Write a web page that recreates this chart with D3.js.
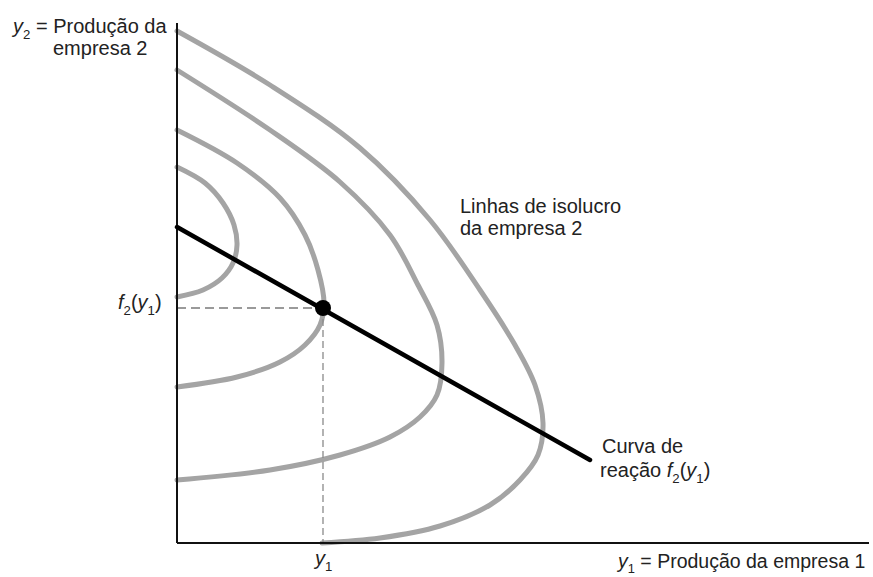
<!DOCTYPE html>
<html>
<head>
<meta charset="utf-8">
<script src="https://cdn.jsdelivr.net/npm/d3@7"></script>
<style>
  html, body { margin: 0; padding: 0; background: #fff; }
  svg { display: block; }
  text { font-family: "Liberation Sans", Arial, Helvetica, sans-serif; fill: #222; }
</style>
</head>
<body>
<svg id="chart" width="873" height="577"></svg>
<script>
// ---- Data (y1 = produção da empresa 1, y2 = produção da empresa 2; arbitrary units) ----
const isoprofit1 = [[0,376],[28,360],[46,340],[57,318],[60,298],[56,280],[45,265],[26,253],[0,246]];
const isoprofit2 = [[0,413],[60,380],[103,345],[128,308],[141,273],[147,240],[143,218],[128,198],[103,181],[60,166],[0,156]];
const isoprofit3 = [[0,473],[93,413],[163,361],[213,308],[241,258],[260,218],[265,180],[260,148],[243,126],[213,106],[163,88],[93,73],[0,63]];
const isoprofit4 = [[0,512],[93,458],[183,395],[253,323],[303,253],[338,198],[358,158],[366,120],[361,88],[343,63],[313,38],[263,17],[203,5],[145,0]];
const isoprofitCurves = [isoprofit1, isoprofit2, isoprofit3, isoprofit4];
const reactionCurve = [[0,316],[413,83]];
const equilibrium = { y1: 146, f2: 235 };
const xDomain = [0, 700];
const yDomain = [0, 520];

// ---- Layout ----
const svg = d3.select("#chart");
const x = d3.scaleLinear().domain(xDomain).range([177, 877]);
const y = d3.scaleLinear().domain(yDomain).range([543, 23]);

const line = d3.line().x(d => x(d[0])).y(d => y(d[1])).curve(d3.curveCatmullRom.alpha(0.5));

// Isoprofit curves
svg.append("g").selectAll("path").data(isoprofitCurves).join("path")
  .attr("d", line)
  .attr("fill", "none")
  .attr("stroke", "#a4a4a4")
  .attr("stroke-width", 5)
  .attr("stroke-linecap", "round");

// Dashed guide lines
svg.append("line")
  .attr("x1", x(0)).attr("x2", x(equilibrium.y1))
  .attr("y1", y(equilibrium.f2)).attr("y2", y(equilibrium.f2))
  .attr("stroke", "#9a9a9a").attr("stroke-width", 2).attr("stroke-dasharray", "9,5");
svg.append("line")
  .attr("x1", x(equilibrium.y1)).attr("x2", x(equilibrium.y1))
  .attr("y1", y(equilibrium.f2)).attr("y2", y(0))
  .attr("stroke", "#8a8a8a").attr("stroke-width", 1.3).attr("stroke-dasharray", "7,4");

// Axes
svg.append("line").attr("x1", x(0)).attr("x2", x(0)).attr("y1", y(yDomain[1])).attr("y2", y(0))
  .attr("stroke", "#111").attr("stroke-width", 2);
svg.append("line").attr("x1", x(0)).attr("x2", 869).attr("y1", y(0)).attr("y2", y(0))
  .attr("stroke", "#111").attr("stroke-width", 2);

// Reaction curve
svg.append("path").datum(reactionCurve)
  .attr("d", d3.line().x(d => x(d[0])).y(d => y(d[1])))
  .attr("stroke", "#000").attr("stroke-width", 4.5).attr("fill", "none").attr("stroke-linecap", "round");

// Equilibrium point
svg.append("circle").attr("cx", x(equilibrium.y1)).attr("cy", y(equilibrium.f2)).attr("r", 8).attr("fill", "#000");

// ---- Text helper ----
function richText(xp, yp, segs, size) {
  const t = svg.append("text").attr("x", xp).attr("y", yp).attr("font-size", size);
  segs.forEach(s => {
    const ts = t.append("tspan").text(s.t);
    if (s.i) ts.attr("font-style", "italic");
    if (s.sub) ts.attr("font-size", size * 0.66).attr("dy", size * 0.28);
    if (s.back) ts.attr("dy", -size * 0.28);
  });
  return t;
}
const FS = 20;
richText(13, 33, [{t:"y", i:true},{t:"2", sub:true},{t:" = Produção da", back:true}], FS);
richText(53, 55, [{t:"empresa 2"}], FS);
richText(460, 213, [{t:"Linhas de isolucro"}], FS);
richText(460, 235, [{t:"da empresa 2"}], FS);
richText(602, 453, [{t:"Curva de"}], FS);
richText(600, 477, [{t:"reação "},{t:"f", i:true},{t:"2", sub:true},{t:"(", back:true},{t:"y", i:true},{t:"1", sub:true},{t:")", back:true}], FS);
richText(118, 309, [{t:"f", i:true},{t:"2", sub:true},{t:"(", back:true},{t:"y", i:true},{t:"1", sub:true},{t:")", back:true}], FS);
richText(315, 565, [{t:"y", i:true},{t:"1", sub:true}], FS);
const bottomLabel = richText(618, 568, [{t:"y", i:true},{t:"1", sub:true},{t:" = Produção da empresa 1", back:true}], 19.5);
// keep the axis title inside the frame, right edge near x = 868
const bw = bottomLabel.node().getComputedTextLength();
if (618 + bw > 868) bottomLabel.attr("x", 868 - bw);
</script>
</body>
</html>
